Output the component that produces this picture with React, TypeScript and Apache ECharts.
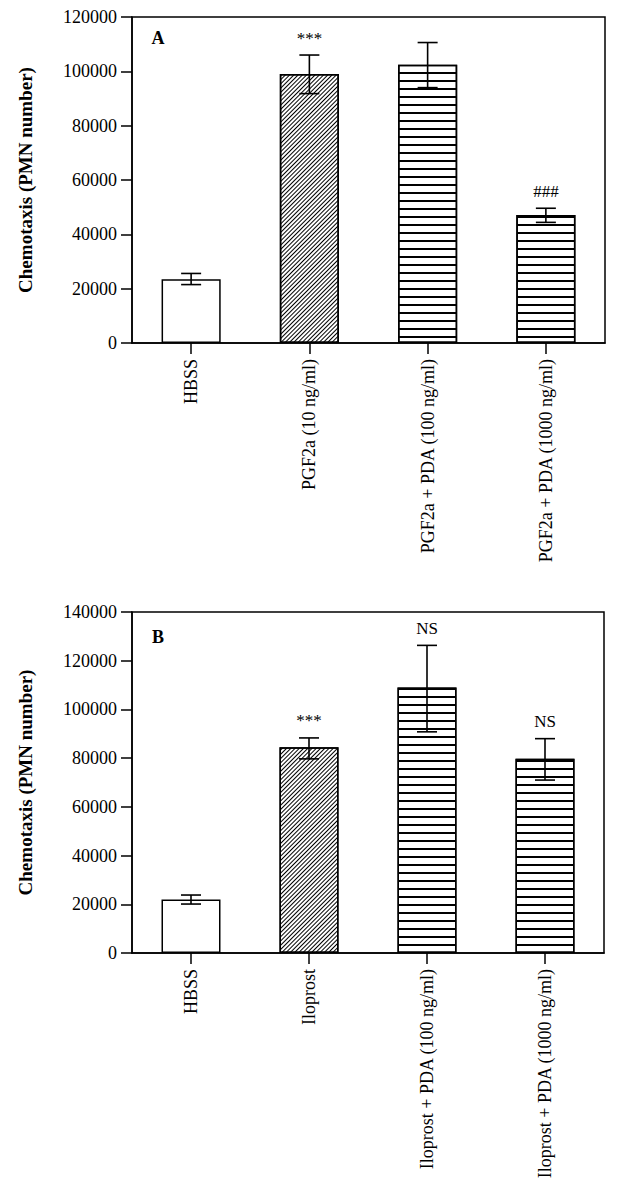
import React, { useEffect, useRef } from "react";
import * as echarts from "echarts";

// ---------- Data ----------
const categoriesA = ["HBSS", "PGF2a (10 ng/ml)", "PGF2a + PDA (100 ng/ml)", "PGF2a + PDA (1000 ng/ml)"];
const meansA = [23500, 99000, 102400, 47100];
const errLowA = [21500, 91800, 94000, 44400];
const errHighA = [25600, 106000, 110600, 49600];
const marksA = ["", "***", "", "###"];
const patternsA = ["none", "diagonal", "horizontal", "horizontal"];

const categoriesB = ["HBSS", "Iloprost", "Iloprost + PDA (100 ng/ml)", "Iloprost + PDA (1000 ng/ml)"];
const meansB = [22000, 84500, 109000, 79800];
const errLowB = [20100, 79700, 90800, 71000];
const errHighB = [23800, 88300, 126300, 88000];
const marksB = ["", "***", "NS", "NS"];
const patternsB = ["none", "diagonal", "horizontal", "horizontal"];

const yMaxA = 120000;
const yMaxB = 140000;
const yStep = 20000;
const yTitle = "Chemotaxis (PMN number)";
const panelLetters = ["A", "B"];

const SERIF = "'Liberation Serif', 'Times New Roman', serif";

function decalFor(p: string): any {
  if (p === "horizontal") {
    return {
      symbol: "rect",
      symbolSize: 1,
      color: "#000",
      dashArrayX: [1, 0],
      dashArrayY: [1.3, 5.2],
      rotation: 0,
    };
  }
  if (p === "diagonal") {
    return {
      symbol: "rect",
      symbolSize: 1,
      color: "#000",
      dashArrayX: [1, 0],
      dashArrayY: [1, 2],
      rotation: -Math.PI / 4,
    };
  }
  return null;
}

function barData(means: number[], patterns: string[]) {
  return means.map((v, i) => {
    const d = decalFor(patterns[i]);
    const itemStyle: any = {
      color: "#fff",
      borderColor: "#000",
      borderWidth: 1.5,
    };
    if (d) itemStyle.decal = d;
    return { value: v, itemStyle };
  });
}

function errData(lo: number[], hi: number[], marks: string[]) {
  return lo.map((l, i) => [i, l, hi[i], marks[i]]);
}

function renderErr(params: any, api: any) {
  const x = api.value(0);
  const lo = api.value(1);
  const hi = api.value(2);
  const idx = params.dataIndex;
  const mark = params.seriesId === "errA" ? marksA[idx] : marksB[idx];
  const pLo = api.coord([x, lo]);
  const pHi = api.coord([x, hi]);
  const half = 10;
  const ls = { stroke: "#000", lineWidth: 1.6 };
  const children: any[] = [
    { type: "line", shape: { x1: pLo[0], y1: pLo[1], x2: pHi[0], y2: pHi[1] }, style: ls },
    { type: "line", shape: { x1: pHi[0] - half, y1: pHi[1], x2: pHi[0] + half, y2: pHi[1] }, style: ls },
    { type: "line", shape: { x1: pLo[0] - half, y1: pLo[1], x2: pLo[0] + half, y2: pLo[1] }, style: ls },
  ];
  if (mark) {
    children.push({
      type: "text",
      x: pHi[0],
      y: pHi[1] - 17,
      style: {
        text: mark,
        fill: "#000",
        font: `17px ${SERIF}`,
        align: "center",
        verticalAlign: "middle",
      },
    });
  }
  return { type: "group", children };
}

export default function App() {
  const ref = useRef<HTMLDivElement>(null);

  useEffect(() => {
    if (!ref.current) return;
    const chart = echarts.init(ref.current, null, { renderer: "svg" });

    const axisLine = { show: true, lineStyle: { color: "#000", width: 1.5 } };
    const axisTick = { show: true, length: 11, inside: false, lineStyle: { color: "#000", width: 1.5 } };

    const xAxisCommon = (cats: string[], gridIndex: number) => ({
      type: "category",
      gridIndex,
      data: cats,
      axisLine,
      axisTick: { ...axisTick, alignWithLabel: true },
      axisLabel: {
        rotate: 90,
        margin: 16,
        color: "#000",
        fontFamily: SERIF,
        fontSize: 18,
        interval: 0,
      },
      splitLine: { show: false },
    });

    const yAxisCommon = (max: number, gridIndex: number) => ({
      type: "value",
      gridIndex,
      min: 0,
      max,
      interval: yStep,
      axisLine,
      axisTick,
      axisLabel: {
        color: "#000",
        fontFamily: SERIF,
        fontSize: 18,
        margin: 15,
        formatter: (v: number) => String(v),
      },
      splitLine: { show: false },
      name: yTitle,
      nameLocation: "middle",
      nameGap: 97,
      nameTextStyle: { color: "#000", fontFamily: SERIF, fontSize: 19, fontWeight: "bold" },
    });

    const option: any = {
      animation: false,
      backgroundColor: "#fff",
      grid: [
        { left: 121, top: 7.5, width: 476, height: 327.5, show: true, borderColor: "#000", borderWidth: 1.5, backgroundColor: "transparent" },
        { left: 123, top: 604, width: 473, height: 341, show: true, borderColor: "#000", borderWidth: 1.5, backgroundColor: "transparent" },
      ],
      xAxis: [xAxisCommon(categoriesA, 0), xAxisCommon(categoriesB, 1)],
      yAxis: [yAxisCommon(yMaxA, 0), yAxisCommon(yMaxB, 1)],
      series: [
        {
          type: "bar",
          xAxisIndex: 0,
          yAxisIndex: 0,
          barWidth: "50%",
          data: barData(meansA, patternsA),
        },
        {
          type: "bar",
          xAxisIndex: 1,
          yAxisIndex: 1,
          barWidth: "50%",
          data: barData(meansB, patternsB),
        },
        {
          id: "errA",
          type: "custom",
          xAxisIndex: 0,
          yAxisIndex: 0,
          z: 5,
          renderItem: renderErr,
          encode: { x: 0, y: [1, 2] },
          data: errData(errLowA, errHighA, marksA),
        },
        {
          id: "errB",
          type: "custom",
          xAxisIndex: 1,
          yAxisIndex: 1,
          z: 5,
          renderItem: renderErr,
          encode: { x: 0, y: [1, 2] },
          data: errData(errLowB, errHighB, marksB),
        },
      ],
      graphic: [
        {
          type: "text",
          x: 150,
          y: 30,
          style: { text: panelLetters[0], fill: "#000", font: `bold 18px ${SERIF}`, align: "center", verticalAlign: "middle" },
        },
        {
          type: "text",
          x: 150,
          y: 629,
          style: { text: panelLetters[1], fill: "#000", font: `bold 18px ${SERIF}`, align: "center", verticalAlign: "middle" },
        },
      ],
    };

    chart.setOption(option);
    return () => chart.dispose();
  }, []);

  return <div ref={ref} style={{ width: 604, height: 1184 }} />;
}
